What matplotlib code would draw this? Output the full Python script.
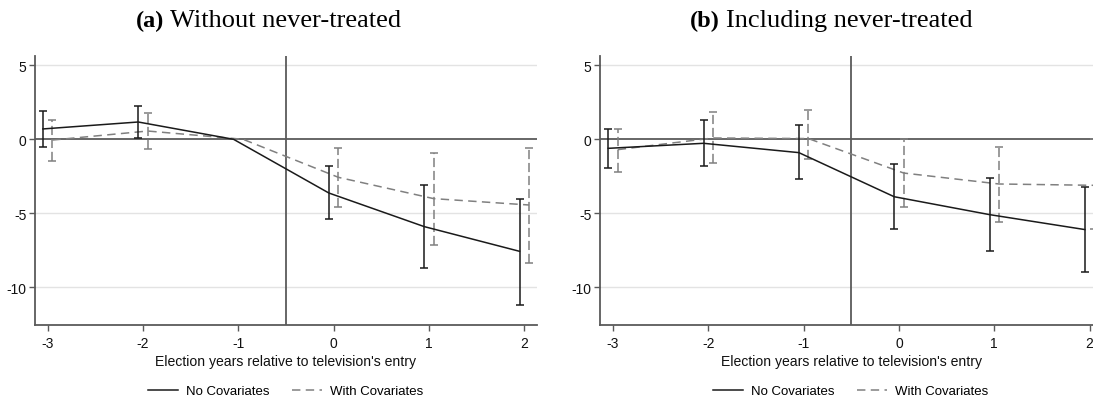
import numpy as np
import matplotlib
matplotlib.use("Agg")
import matplotlib.pyplot as plt

# event time (election years relative to TV entry)
periods = [-3, -2, -1, 0, 1, 2]

# (a) without never-treated
a_nocov = [0.70, 1.17, 0.0, -3.63, -5.90, -7.57]
a_nocov_lo = [-0.54, 0.09, np.nan, -5.41, -8.72, -11.20]
a_nocov_hi = [1.93, 2.23, np.nan, -1.83, -3.11, -4.01]
a_cov = [-0.05, 0.56, 0.0, -2.57, -4.01, -4.44]
a_cov_lo = [-1.49, -0.66, np.nan, -4.55, -7.16, -8.38]
a_cov_hi = [1.33, 1.76, np.nan, -0.59, -0.90, -0.59]

# (b) including never-treated
b_nocov = [-0.61, -0.27, -0.90, -3.88, -5.09, -6.10]
b_nocov_lo = [-1.92, -1.83, -2.70, -6.08, -7.55, -8.97]
b_nocov_hi = [0.68, 1.28, 0.95, -1.65, -2.59, -3.22]
b_cov = [-0.70, 0.09, 0.05, -2.28, -3.02, -3.11]
b_cov_lo = [-2.19, -1.62, -1.35, -4.60, -5.59, -6.08]
b_cov_hi = [0.68, 1.82, 2.00, 0.04, -0.52, 0.0]

yticks = [5, 0, -5, -10]
xlab = "Election years relative to television's entry"
labels = ["No Covariates", "With Covariates"]

plt.rcParams['font.family'] = ['Liberation Sans', 'DejaVu Sans']
plt.rcParams['axes.unicode_minus'] = False

W, H = 1093, 402
fig = plt.figure(figsize=(W / 100, H / 100), dpi=100)

SOLID = '#1a1a1a'
DASH = '#808080'
AXC = '#5a5a5a'


def panel(ax, nc, nc_lo, nc_hi, wc, wc_lo, wc_hi):
   x = np.array(periods, dtype=float)
   for v in [5, -5, -10]:
      ax.axhline(v, color='#e3e3e3', lw=1.0, zorder=0)
   ax.axhline(0, color=AXC, lw=1.3, zorder=1)
   ax.axvline(-0.5, color=AXC, lw=1.3, zorder=1)

   nc = np.array(nc); wc = np.array(wc)
   xs = x - 0.05
   xd = x + 0.05
   e1 = ax.errorbar(xs, nc, yerr=[nc - np.array(nc_lo), np.array(nc_hi) - nc],
                    fmt='none', ecolor=SOLID, elinewidth=1.1, capsize=2.6,
                    capthick=1.1, zorder=3)
   e2 = ax.errorbar(xd, wc, yerr=[wc - np.array(wc_lo), np.array(wc_hi) - wc],
                    fmt='none', ecolor=DASH, elinewidth=1.1, capsize=2.6,
                    capthick=1.1, zorder=2)
   e2[2][0].set_linestyle((0, (6, 2.5)))
   l1, = ax.plot(xs, nc, color=SOLID, lw=1.1, zorder=3)
   l2, = ax.plot(xd, wc, color=DASH, lw=1.1, dashes=(5.5, 3.5), zorder=2)

   ax.set_xlim(-3.136, 2.13)
   ax.set_ylim(-12.55, 5.61)
   ax.set_xticks(periods)
   ax.set_yticks(yticks)
   ax.tick_params(axis='both', colors=AXC, labelcolor='#111111',
                  labelsize=10, length=4, width=1.0, direction='out')
   ax.tick_params(axis='x', pad=4)
   ax.tick_params(axis='y', pad=2)
   for s in ['top', 'right']:
      ax.spines[s].set_visible(False)
   for s in ['left', 'bottom']:
      ax.spines[s].set_color(AXC)
      ax.spines[s].set_linewidth(1.3)
   ax.set_xlabel(xlab, fontsize=10.1, color='#111111', labelpad=3)
   return l1, l2


aw = 502 / W
ah = 268.7 / H
ab = 76 / H
ax1 = fig.add_axes([34.7 / W, ab, aw, ah])
ax2 = fig.add_axes([600 / W, ab, aw, ah])

h1 = panel(ax1, a_nocov, a_nocov_lo, a_nocov_hi, a_cov, a_cov_lo, a_cov_hi)
h2 = panel(ax2, b_nocov, b_nocov_lo, b_nocov_hi, b_cov, b_cov_lo, b_cov_hi)

for hh, cx in [(h1, 285.7), (h2, 850.5)]:
   fig.legend(hh, labels, loc='center', bbox_to_anchor=(cx / W, 10 / H),
              ncol=2, frameon=False, fontsize=9.5, handlelength=2.3,
              handletextpad=0.6, columnspacing=1.7)

# subfigure captions
tfont = dict(family=['Liberation Serif', 'DejaVu Serif'], va='baseline')
yb = 1 - 26.7 / H
fig.text(136 / W, yb, "(a)", fontweight='bold', fontsize=17.5, **tfont)
fig.text(170 / W, yb, "Without never-treated", fontsize=19, **tfont)
fig.text(690 / W, yb, "(b)", fontweight='bold', fontsize=17.5, **tfont)
fig.text(726 / W, yb, "Including never-treated", fontsize=19, **tfont)

fig.savefig("out.png", dpi=100)
